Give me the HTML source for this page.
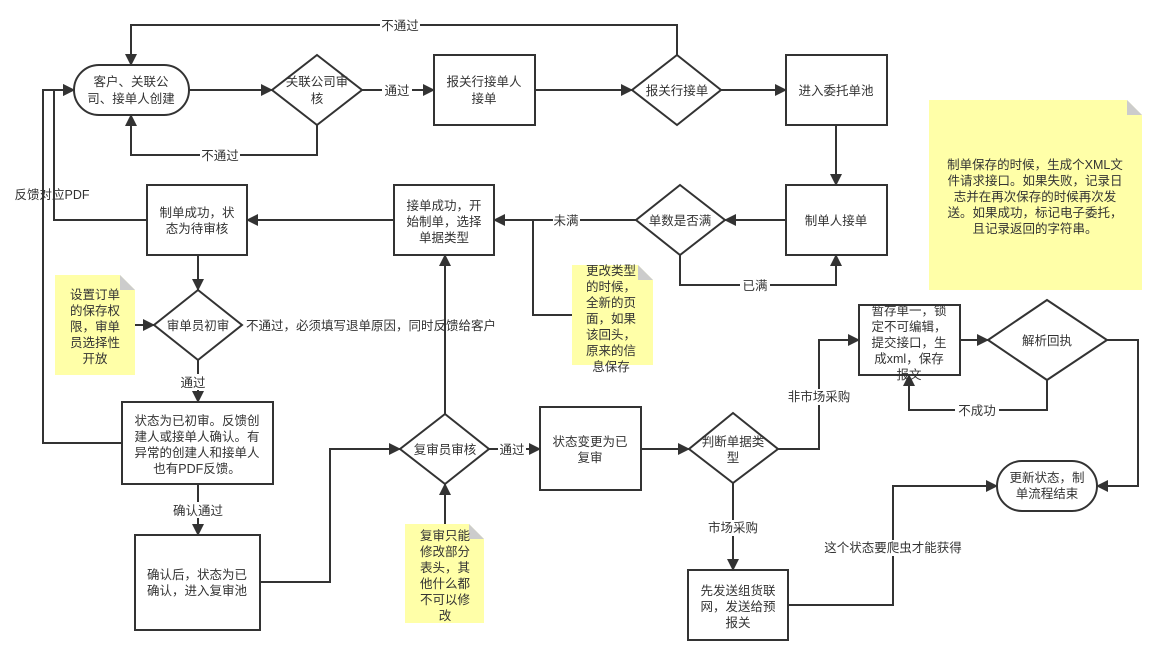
<!DOCTYPE html>
<html><head><meta charset="utf-8"><style>
html,body{margin:0;padding:0;background:#fff;}
svg{display:block;font-family:"Liberation Sans","Noto Sans CJK SC",sans-serif;font-size:12.5px;}
text{fill:#333;text-anchor:middle;}
</style></head><body>
<svg width="1166" height="665" viewBox="0 0 1166 665" xmlns="http://www.w3.org/2000/svg">
<defs>
<marker id="a" markerWidth="12" markerHeight="12" refX="11" refY="6" orient="auto" markerUnits="userSpaceOnUse">
<path d="M0,0 L12,6 L0,12 z" fill="#333"/></marker>
</defs>
<g fill="none" stroke="#333" stroke-width="2">
<!-- notes -->
<path d="M55,275 H120 L135,290 V375 H55 z" fill="#ffffa8" stroke="none"/>
<path d="M120,275 L135,290 H120 z" fill="#ccc" stroke="none"/>
<path d="M572,265 H638 L653,280 V365 H572 z" fill="#ffffa8" stroke="none"/>
<path d="M638,265 L653,280 H638 z" fill="#ccc" stroke="none"/>
<path d="M929,100 H1127 L1142,115 V290 H929 z" fill="#ffffa8" stroke="none"/>
<path d="M1127,100 L1142,115 H1127 z" fill="#ccc" stroke="none"/>
<path d="M405,524 H469 L484,539 V623 H405 z" fill="#ffffa8" stroke="none"/>
<path d="M469,524 L484,539 H469 z" fill="#ccc" stroke="none"/>

<!-- shapes -->
<rect x="74" y="65" width="115" height="50" rx="25" fill="#fff"/>
<polygon points="317,55 362,90 317,125 272,90" fill="#fff"/>
<rect x="434" y="55" width="101" height="70" fill="#fff"/>
<polygon points="677,55 721,90 677,125 632,90" fill="#fff"/>
<rect x="786" y="55" width="101" height="70" fill="#fff"/>
<rect x="786" y="185" width="101" height="70" fill="#fff"/>
<polygon points="680,185 725,220 680,255 636,220" fill="#fff"/>
<rect x="394" y="185" width="100" height="70" fill="#fff"/>
<rect x="147" y="185" width="100" height="70" fill="#fff"/>
<polygon points="198,290 242,325 198,360 154,325" fill="#fff"/>
<rect x="122" y="402" width="151" height="82" fill="#fff"/>
<rect x="135" y="535" width="125" height="95" fill="#fff"/>
<polygon points="445,414 489,449 445,484 400,449" fill="#fff"/>
<rect x="540" y="407" width="101" height="83" fill="#fff"/>
<polygon points="733,413 778,449 733,483 689,449" fill="#fff"/>
<rect x="859" y="305" width="101" height="70" fill="#fff"/>
<polygon points="1047,300 1107,340 1047,380 988,340" fill="#fff"/>
<rect x="997" y="461" width="100" height="50" rx="25" fill="#fff"/>
<rect x="688" y="570" width="100" height="70" fill="#fff"/>

<!-- connectors -->
<path d="M677,55 V25 H131 V65" marker-end="url(#a)"/>
<path d="M189,90 H272" marker-end="url(#a)"/>
<path d="M317,125 V155 H131 V115" marker-end="url(#a)"/>
<path d="M362,90 H434" marker-end="url(#a)"/>
<path d="M535,90 H632" marker-end="url(#a)"/>
<path d="M721,90 H786" marker-end="url(#a)"/>
<path d="M836,125 V185" marker-end="url(#a)"/>
<path d="M786,220 H725" marker-end="url(#a)"/>
<path d="M680,255 V285 H836 V255" marker-end="url(#a)"/>
<path d="M636,220 H494" marker-end="url(#a)"/>
<path d="M533,220 V315 H572"/>
<path d="M394,220 H247" marker-end="url(#a)"/>
<path d="M147,220 H54 V90 H74" marker-end="url(#a)"/>
<path d="M122,443 H43 V90 H74" marker-end="url(#a)"/>
<path d="M198,255 V290" marker-end="url(#a)"/>
<path d="M135,325 H154" marker-end="url(#a)"/>
<path d="M198,360 V402" marker-end="url(#a)"/>
<path d="M198,484 V535" marker-end="url(#a)"/>
<path d="M260,582 H330 V449 H400" marker-end="url(#a)"/>
<path d="M445,414 V255" marker-end="url(#a)"/>
<path d="M445,524 V484" marker-end="url(#a)"/>
<path d="M489,449 H540" marker-end="url(#a)"/>
<path d="M641,449 H689" marker-end="url(#a)"/>
<path d="M778,449 H819 V340 H859" marker-end="url(#a)"/>
<path d="M960,340 H988" marker-end="url(#a)"/>
<path d="M1047,380 V410 H909 V375" marker-end="url(#a)"/>
<path d="M1107,340 H1138 V486 H1097" marker-end="url(#a)"/>
<path d="M733,483 V570" marker-end="url(#a)"/>
<path d="M788,605 H893 V486 H997" marker-end="url(#a)"/>
</g>

<!-- label backgrounds -->
<g fill="#fff">
<rect x="380" y="17" width="40" height="16"/>
<rect x="200" y="147" width="40" height="16"/>
<rect x="382" y="82" width="30" height="16"/>
<rect x="553" y="212" width="27" height="16"/>
<rect x="740" y="277" width="30" height="16"/>
<rect x="178" y="374" width="30" height="16"/>
<rect x="170" y="502" width="56" height="16"/>
<rect x="498" y="441" width="28" height="16"/>
<rect x="788" y="389" width="62" height="16"/>
<rect x="955" y="402" width="44" height="16"/>
<rect x="705" y="520" width="56" height="16"/>
<rect x="820" y="540" width="146" height="16"/>
</g>

<g>
<text x="400" y="30">不通过</text>
<text x="220" y="160">不通过</text>
<text x="397" y="95">通过</text>
<text x="566" y="225">未满</text>
<text x="755" y="290">已满</text>
<text x="52" y="199">反馈对应PDF</text>
<text x="193" y="387">通过</text>
<text x="198" y="515">确认通过</text>
<text x="512" y="454">通过</text>
<text x="819" y="401">非市场采购</text>
<text x="977" y="415">不成功</text>
<text x="733" y="532">市场采购</text>
<text x="893" y="552">这个状态要爬虫才能获得</text>
<text x="246" y="330" style="text-anchor:start">不通过，必须填写退单原因，同时反馈给客户</text>

<text x="131" y="86">客户、关联公</text><text x="131" y="103">司、接单人创建</text>
<text x="317" y="86">关联公司审</text><text x="317" y="103">核</text>
<text x="484" y="86">报关行接单人</text><text x="484" y="103">接单</text>
<text x="677" y="95">报关行接单</text>
<text x="836" y="95">进入委托单池</text>
<text x="836" y="225">制单人接单</text>
<text x="680" y="225">单数是否满</text>
<text x="444" y="210">接单成功，开</text><text x="444" y="226">始制单，选择</text><text x="444" y="242">单据类型</text>
<text x="197" y="217">制单成功，状</text><text x="197" y="233">态为待审核</text>
<text x="198" y="330">审单员初审</text>
<text x="197" y="425">状态为已初审。反馈创</text><text x="197" y="441">建人或接单人确认。有</text><text x="197" y="457">异常的创建人和接单人</text><text x="197" y="473">也有PDF反馈。</text>
<text x="197" y="579">确认后，状态为已</text><text x="197" y="595">确认，进入复审池</text>
<text x="445" y="454">复审员审核</text>
<text x="590" y="446">状态变更为已</text><text x="590" y="462">复审</text>
<text x="733" y="446">判断单据类</text><text x="733" y="462">型</text>
<text x="909" y="315">暂存单一，锁</text><text x="909" y="331">定不可编辑，</text><text x="909" y="347">提交接口，生</text><text x="909" y="363">成xml，保存</text><text x="909" y="379">报文</text>
<text x="1047" y="345">解析回执</text>
<text x="1047" y="482">更新状态，制</text><text x="1047" y="498">单流程结束</text>
<text x="738" y="595">先发送组货联</text><text x="738" y="611">网，发送给预</text><text x="738" y="627">报关</text>

<text x="95" y="299">设置订单</text><text x="95" y="315">的保存权</text><text x="95" y="331">限，审单</text><text x="95" y="347">员选择性</text><text x="95" y="363">开放</text>
<text x="611" y="275">更改类型</text><text x="611" y="291">的时候，</text><text x="611" y="307">全新的页</text><text x="611" y="323">面，如果</text><text x="611" y="339">该回头，</text><text x="611" y="355">原来的信</text><text x="611" y="371">息保存</text>
<text x="445" y="540">复审只能</text><text x="445" y="556">修改部分</text><text x="445" y="572">表头，其</text><text x="445" y="588">他什么都</text><text x="445" y="604">不可以修</text><text x="445" y="620">改</text>
<text x="1035" y="169">制单保存的时候，生成个XML文</text><text x="1035" y="185">件请求接口。如果失败，记录日</text><text x="1035" y="201">志并在再次保存的时候再次发</text><text x="1035" y="217">送。如果成功，标记电子委托，</text><text x="1035" y="233">且记录返回的字符串。</text>
</g>
</svg>
</body></html>
